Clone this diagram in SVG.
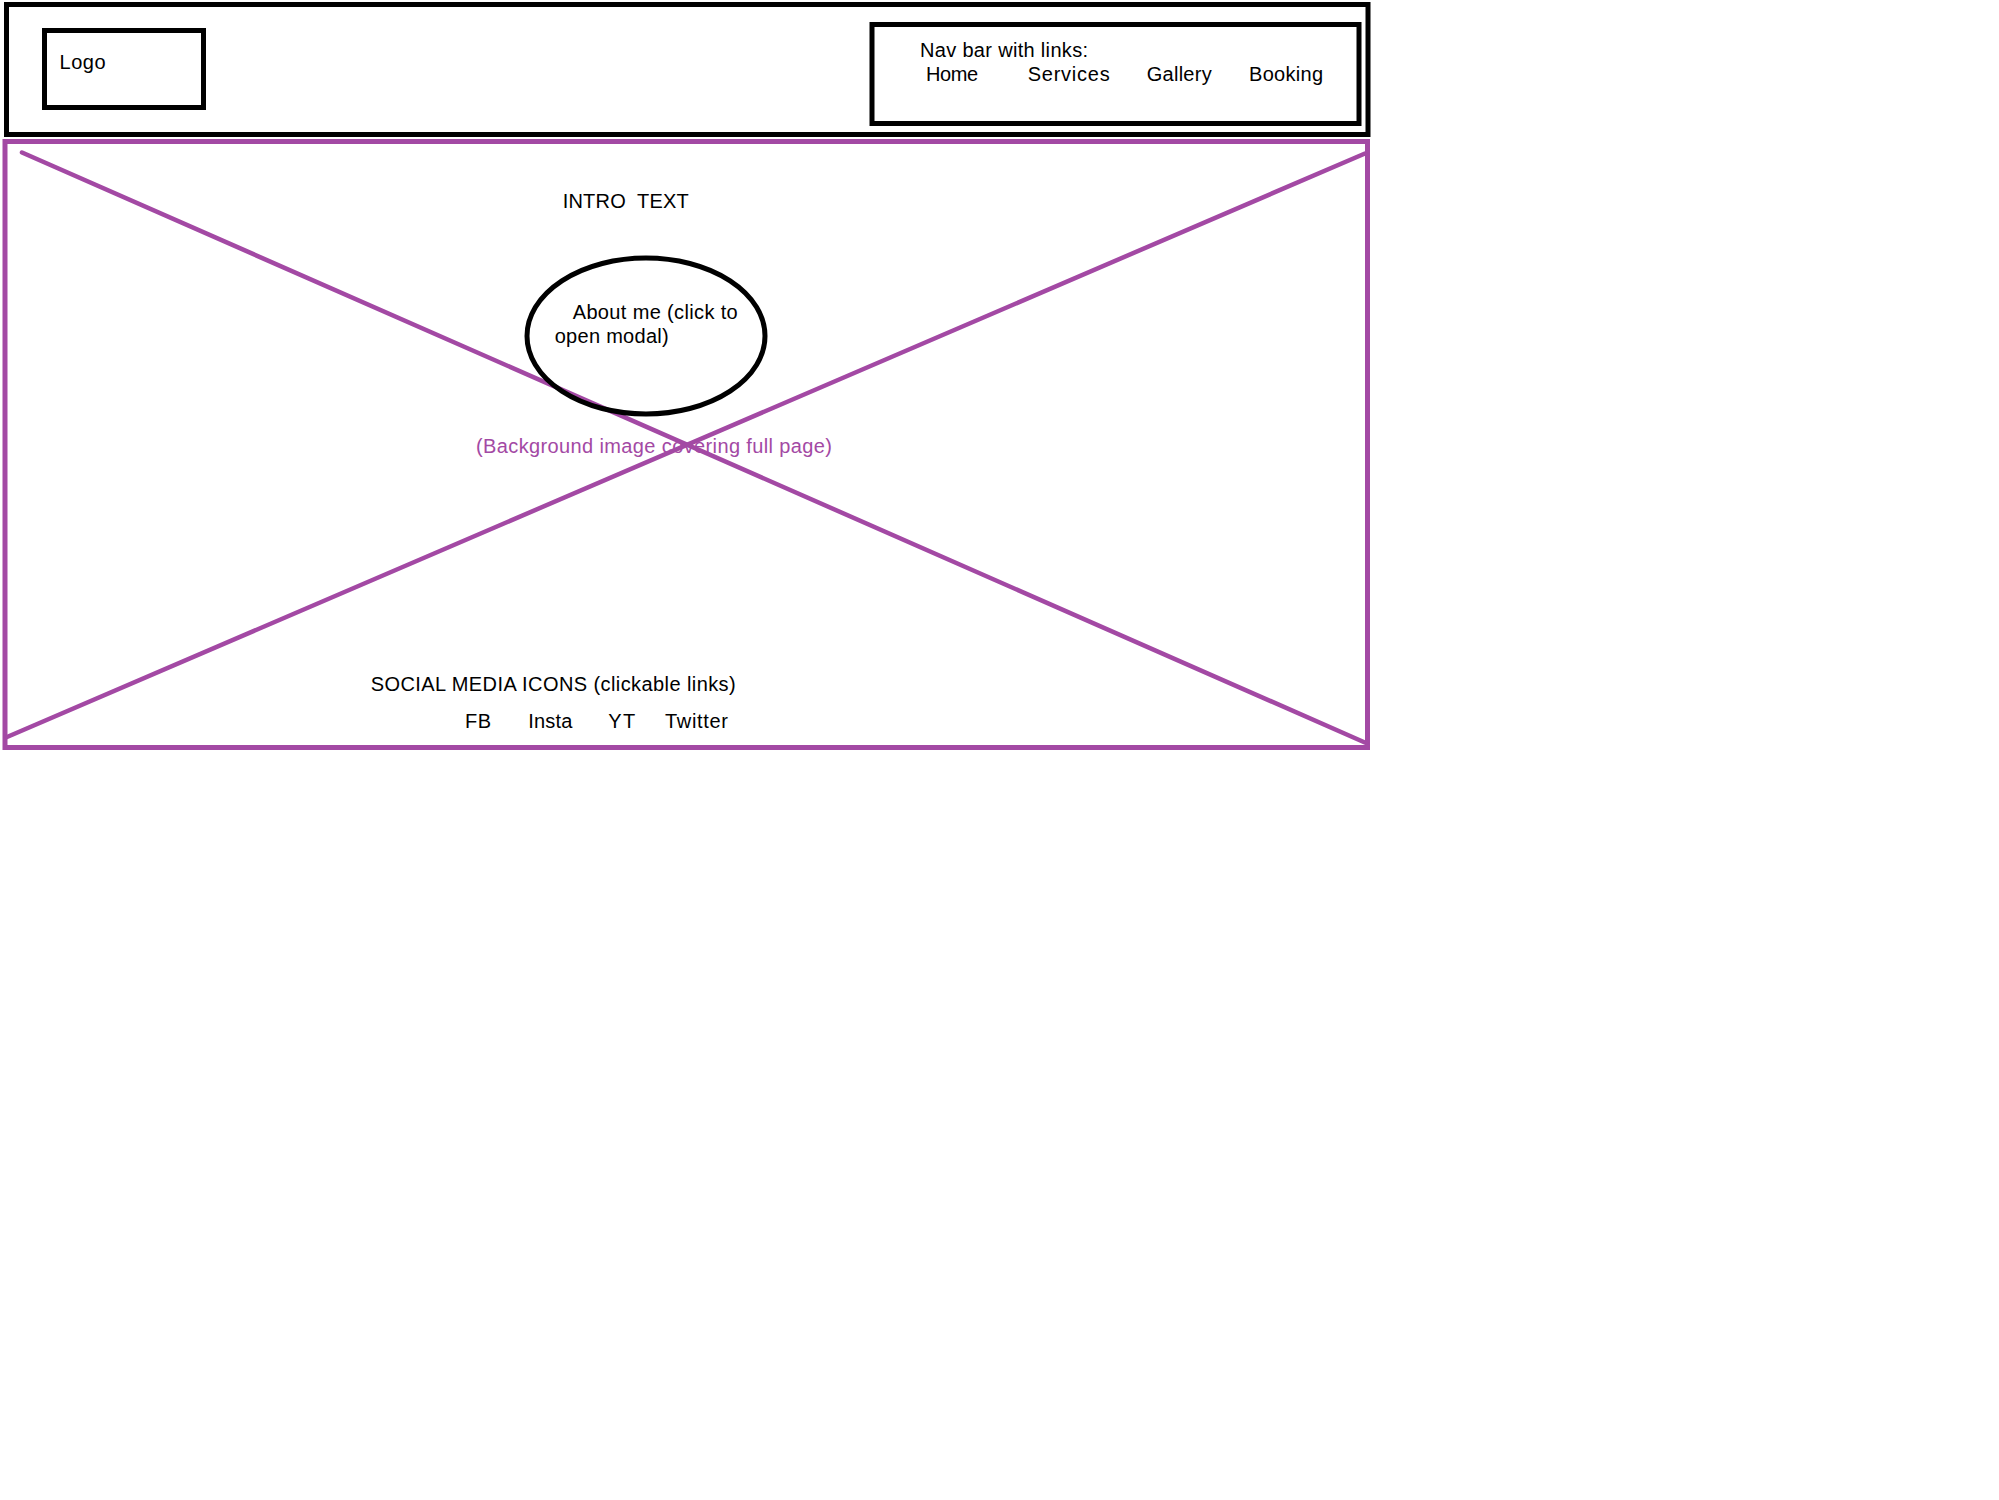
<svg xmlns="http://www.w3.org/2000/svg" width="1999" height="1500" viewBox="0 0 1999 1500">
  <style>
    .box { fill: none; stroke: #000; stroke-width: 5; }
    .bg { fill: none; stroke: #A349A4; stroke-width: 5; }
    .cross { stroke: #A349A4; stroke-width: 4.5; stroke-linecap: round; }
    text { font-family: "Liberation Sans", Arial, sans-serif; font-size: 20px; fill: #000; white-space: pre; }
    .note { fill: #A349A4; }
  </style>
  <rect width="1999" height="1500" fill="#fff"/>

  <!-- Background image placeholder: frame with a cross -->
  <g id="background">
    <rect class="bg" x="5" y="141.5" width="1362.5" height="606"/>
  </g>
  <g id="connectors">
    <line class="cross" x1="22" y1="152.5" x2="1366" y2="743"/>
    <line class="cross" x1="7" y1="737" x2="1365" y2="153.5"/>
  </g>

  <!-- Header -->
  <g id="header">
    <rect class="box" x="6.5" y="4.5" width="1361.5" height="130"/>
  </g>
  <g id="logo">
    <rect class="box" x="44.5" y="30.5" width="159" height="77"/>
    <text x="59.5" y="69" textLength="46">Logo</text>
  </g>
  <g id="nav">
    <rect class="box" x="872" y="24.5" width="487" height="99"/>
    <text x="920" y="56.7" textLength="168">Nav bar with links:</text>
    <text x="926" y="80.7" textLength="52">Home</text>
    <text x="1027.7" y="80.7" textLength="82">Services</text>
    <text x="1146.7" y="80.7" textLength="65">Gallery</text>
    <text x="1249" y="80.7" textLength="74">Booking</text>
  </g>

  <!-- Hero content -->
  <g id="intro">
    <text x="562.7" y="208.3" textLength="126">INTRO  TEXT</text>
  </g>
  <g id="about">
    <ellipse class="box" cx="646" cy="336" rx="119" ry="78"/>
    <text x="572.7" y="319.3" textLength="165">About me (click to</text>
    <text x="554.7" y="343.3" textLength="114">open modal)</text>
  </g>
  <g id="bg-label">
    <text class="note" x="476" y="453.3" textLength="356">(Background image covering full page)</text>
  </g>
  <g id="social">
    <text x="370.7" y="690.7" textLength="365">SOCIAL MEDIA ICONS (clickable links)</text>
    <text x="465" y="727.7" textLength="26">FB</text>
    <text x="528.3" y="727.7" textLength="44">Insta</text>
    <text x="608.3" y="727.7" textLength="27">YT</text>
    <text x="665" y="727.7" textLength="63">Twitter</text>
  </g>
</svg>
